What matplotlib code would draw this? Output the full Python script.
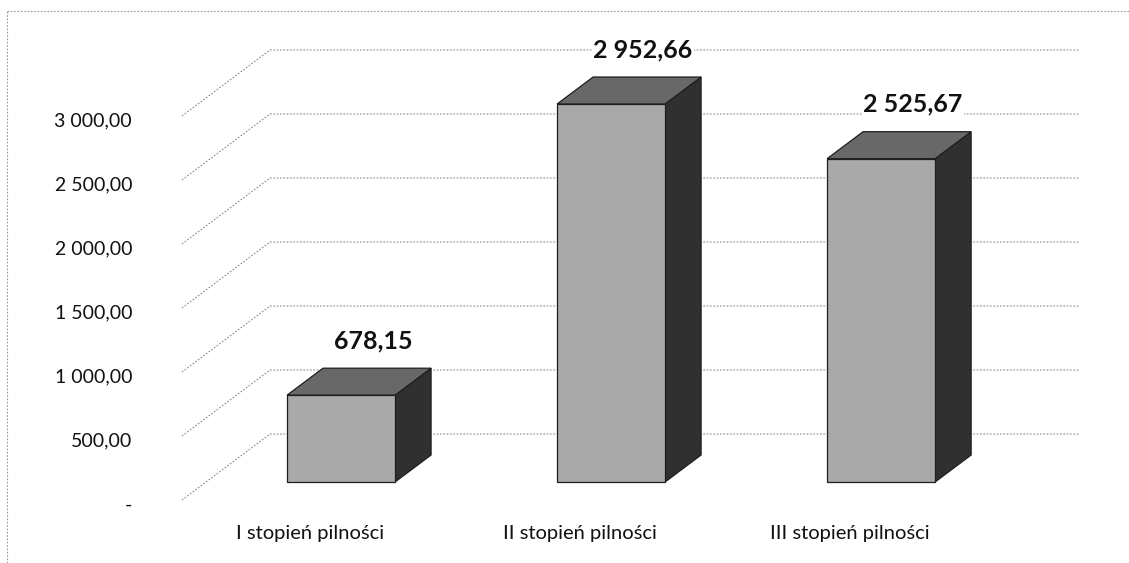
import matplotlib
matplotlib.use("Agg")
import matplotlib.pyplot as plt
from matplotlib.patches import Polygon
from matplotlib.lines import Line2D

# ---------------- data ----------------
categories = ["I stopień pilności", "II stopień pilności", "III stopień pilności"]
values = [678.15, 2952.66, 2525.67]
value_labels = ["678,15", "2 952,66", "2 525,67"]
yticks = [0, 500, 1000, 1500, 2000, 2500, 3000]
ytick_labels = ["-", "500,00", "1 000,00", "1 500,00", "2 000,00", "2 500,00", "3 000,00"]

# ---------------- style / geometry ----------------
W, H, DPI = 1129, 563, 100
FONT = "Lato"
DX, DY = 0.326, 515.6      # oblique offset of the back wall (data units)
F0, F1 = 0.273, 0.682      # depth fraction of bar front / back faces
BW = 0.40                  # bar width (category units)
C_FRONT, C_TOP, C_SIDE = "#a9a9a9", "#686868", "#303030"
GRID_C = "#8a8a8a"

fig = plt.figure(figsize=(W / DPI, H / DPI), dpi=DPI)
ax = fig.add_axes([0, 0, 1, 1])
ax.set_xlim(-1.174, 3.007)
ax.set_ylim(-492, 3906)
ax.axis("off")


def proj(x, y, d):
    return (x + d * DX, y + d * DY)


n = len(categories)
left, right = -0.5, n - 0.5

# gridlines: side-wall diagonal + back-wall horizontal
for t in yticks:
    p0 = proj(left, t, 0)
    p1 = proj(left, t, 1)
    p2 = proj(right, t, 1)
    ax.plot([p0[0], p1[0], p2[0]], [p0[1], p1[1], p2[1]], color=GRID_C,
            lw=0.8, ls=(0, (1.5, 1.5)), zorder=1)

# y tick labels
for t, lab in zip(yticks, ytick_labels):
    ax.annotate(lab, xy=(left, t), xytext=(-50, -5), textcoords="offset pixels",
                ha="right", va="center", fontsize=14, family=FONT, color="#111111")

# bars (3D-like boxes)
for i, v in enumerate(values):
    xl, xr = i - BW / 2, i + BW / 2
    front = [proj(xl, 0, F0), proj(xr, 0, F0), proj(xr, v, F0), proj(xl, v, F0)]
    side = [proj(xr, 0, F0), proj(xr, 0, F1), proj(xr, v, F1), proj(xr, v, F0)]
    top = [proj(xl, v, F0), proj(xr, v, F0), proj(xr, v, F1), proj(xl, v, F1)]
    for poly, c in ((side, C_SIDE), (top, C_TOP), (front, C_FRONT)):
        ax.add_patch(Polygon(poly, closed=True, facecolor=c, edgecolor="#1e1e1e",
                             lw=0.9, zorder=3))
    lx, ly = proj(i, v, F1)
    ax.annotate(value_labels[i], xy=(lx, ly), xytext=(-4, 20), textcoords="offset pixels",
                ha="center", va="baseline", fontsize=18, fontweight="bold", family=FONT,
                color="#111111", zorder=5,
                bbox=dict(boxstyle="square,pad=0.05", fc="white", ec="none"))

# category labels
for i, c in enumerate(categories):
    ax.annotate(c, xy=(i, 0), xytext=(-7, -33), textcoords="offset pixels",
                ha="center", va="center", fontsize=14.5, family=FONT, color="#111111")

# chart border (left and top, dotted as in the scan)
fig.add_artist(Line2D([7 / W, 7 / W], [0, 1 - 11 / H], color="#999999", lw=0.8,
                      ls=(0, (1.5, 1.5))))
fig.add_artist(Line2D([7 / W, 1], [1 - 11 / H, 1 - 11 / H], color="#999999", lw=0.8,
                      ls=(0, (1.5, 1.5))))

fig.savefig("out.png", dpi=DPI, facecolor="white")
